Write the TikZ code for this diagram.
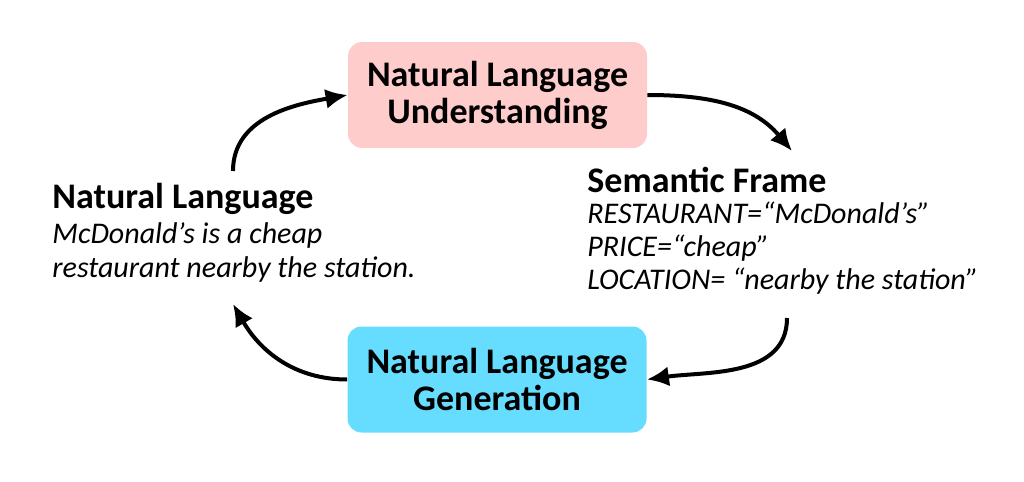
\documentclass[tikz,border=0pt]{standalone}
\usepackage{fontspec}
\setmainfont{Carlito}
\usetikzlibrary{arrows.meta}

\definecolor{nlupink}{RGB}{255,204,204}
\definecolor{nlgblue}{RGB}{102,221,255}

\tikzset{
  module/.style={rounded corners=7pt, minimum width=149.5pt, minimum height=53pt,
    align=center, font=\fontsize{18}{18.5}\selectfont\bfseries, inner sep=0pt},
  heading/.style={anchor=base west, inner sep=0pt, font=\fontsize{18}{18}\selectfont\bfseries},
  slot/.style={anchor=base west, inner sep=0pt, font=\fontsize{15}{17}\selectfont\itshape},
  flow/.style={line width=2pt, -{Latex[length=11pt,width=10pt]}}
}

\begin{document}
\begin{tikzpicture}[x=0.5pt,y=-0.5pt]
\useasboundingbox (0,0) rectangle (1024,482);

% the two modules
\node[module, fill=nlupink] (nlu) at (497.5,95) {Natural Language\\Understanding};
\node[module, fill=nlgblue] (nlg) at (497,379.5) {Natural Language\\Generation};

% natural language side
\node[heading] (nl) at (52,208) {Natural Language};
\foreach \txt [count=\i] in {{McDonald’s is a cheap},{restaurant nearby the station.}}
  \node[slot] (nl\i) at (52,{243+34*(\i-1)}) {\txt};

% semantic frame side
\node[heading] (sf) at (587,192) {Semantic Frame};
\foreach \txt [count=\i] in {{RESTAURANT=“McDonald’s”},{PRICE=“cheap”},{LOCATION= “nearby the station”}}
  \node[slot] (sf\i) at (587,{223+33*(\i-1)}) {\txt};

\coordinate (nlup) at (233,171);
\coordinate (nldown) at (233,304);
\coordinate (sfup) at (792,151);
\coordinate (sfdown) at (787,318);

\draw[flow] (nlup) to[out=90,in=190] (nlu.west);
\draw[flow] (nlu.east) to[out=0,in=130] (sfup);
\draw[flow] (sfdown) to[out=-90,in=8] (nlg.east);
\draw[flow] (nlg.west) to[out=180,in=-60] (nldown);
\end{tikzpicture}
\end{document}
